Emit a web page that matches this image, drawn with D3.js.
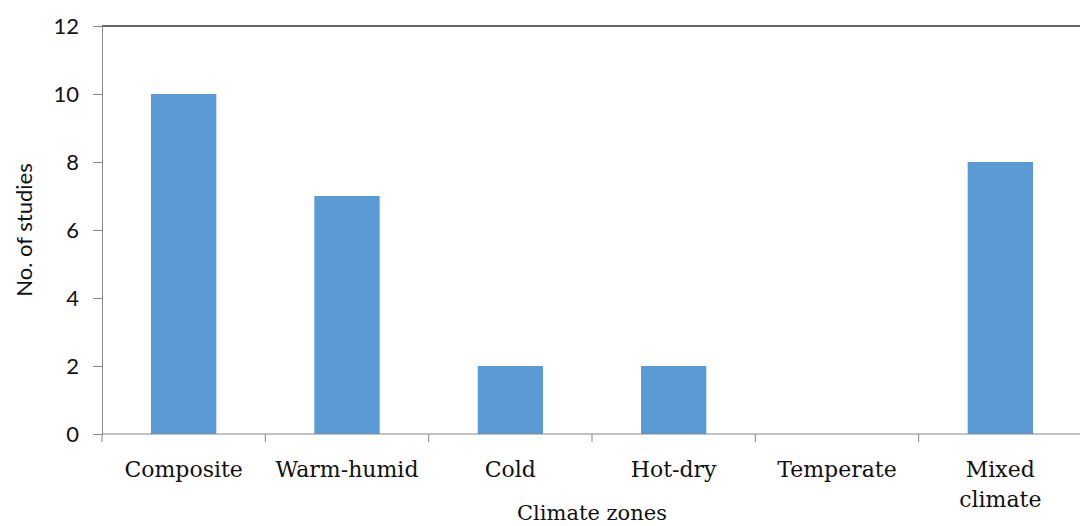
<!DOCTYPE html>
<html>
<head>
<meta charset="utf-8">
<script src="https://d3js.org/d3.v7.min.js"></script>
<style>
  body { margin: 0; background: #fff; }
</style>
</head>
<body>
<div id="chart"></div>
<script>
const zones = ['Composite', 'Warm-humid', 'Cold', 'Hot-dry', 'Temperate', 'Mixed climate'];
const studies = [10, 7, 2, 2, 0, 8];
const yTicks = [0, 2, 4, 6, 8, 10, 12];

const width = 1080, height = 526;
const margin = { left: 102, right: -2, top: 26, bottom: 92 };

const svg = d3.select('#chart').append('svg')
  .attr('width', width)
  .attr('height', height)
  .style('display', 'block');

const x = d3.scaleBand()
  .domain(zones)
  .range([margin.left, width - margin.right])
  .paddingInner(0.6)
  .paddingOuter(0.3);

const y = d3.scaleLinear()
  .domain([0, 12])
  .range([height - margin.bottom, margin.top]);

// top border
svg.append('line')
  .attr('x1', margin.left).attr('x2', width)
  .attr('y1', y(12)).attr('y2', y(12))
  .attr('stroke', '#333').attr('stroke-width', 1.5);

svg.selectAll('rect.bar')
  .data(zones)
  .enter()
  .append('rect')
  .attr('class', 'bar')
  .attr('x', d => x(d))
  .attr('y', (d, i) => y(studies[i]))
  .attr('width', x.bandwidth())
  .attr('height', (d, i) => y(0) - y(studies[i]))
  .attr('fill', '#5B9BD5');

const yAxis = svg.append('g')
  .attr('transform', `translate(${margin.left},0)`)
  .call(d3.axisLeft(y).tickValues(yTicks).tickSize(9).tickPadding(14));
yAxis.select('.domain').attr('stroke', '#888');
yAxis.selectAll('.tick line').attr('stroke', '#888');
yAxis.selectAll('.tick text')
  .attr('font-family', 'Lato, "Open Sans", sans-serif')
  .attr('font-size', 22)
  .attr('fill', '#111');

// category boundary ticks on x axis
const step = x.step();
const bounds = d3.range(zones.length + 1).map(i => margin.left + i * step);
svg.append('line')
  .attr('x1', margin.left).attr('x2', width)
  .attr('y1', y(0)).attr('y2', y(0))
  .attr('stroke', '#888');
svg.selectAll('line.xtick')
  .data(bounds)
  .enter()
  .append('line')
  .attr('class', 'xtick')
  .attr('x1', d => d).attr('x2', d => d)
  .attr('y1', y(0)).attr('y2', y(0) + 8)
  .attr('stroke', '#888');

const labels = svg.selectAll('text.xlab')
  .data(zones)
  .enter()
  .append('text')
  .attr('class', 'xlab')
  .attr('x', d => x(d) + x.bandwidth() / 2)
  .attr('y', y(0) + 43)
  .attr('text-anchor', 'middle')
  .attr('font-family', '"DejaVu Serif", serif')
  .attr('font-size', 22)
  .attr('fill', '#111');
labels.each(function(d) {
  const parts = d === 'Mixed climate' ? ['Mixed', 'climate'] : [d];
  const t = d3.select(this);
  parts.forEach((p, i) => {
    t.append('tspan')
      .attr('x', x(d) + x.bandwidth() / 2)
      .attr('dy', i === 0 ? 0 : 30)
      .text(p);
  });
});

svg.append('text')
  .attr('x', (margin.left + 1082) / 2)
  .attr('y', 520)
  .attr('text-anchor', 'middle')
  .attr('font-family', '"DejaVu Serif", serif')
  .attr('font-size', 21)
  .attr('fill', '#111')
  .text('Climate zones');

svg.append('text')
  .attr('transform', `translate(32, ${(y(0) + y(12)) / 2}) rotate(-90)`)
  .attr('text-anchor', 'middle')
  .attr('font-family', 'Lato, "Open Sans", sans-serif')
  .attr('font-size', 22)
  .attr('fill', '#111')
  .text('No. of studies');
</script>
</body>
</html>
